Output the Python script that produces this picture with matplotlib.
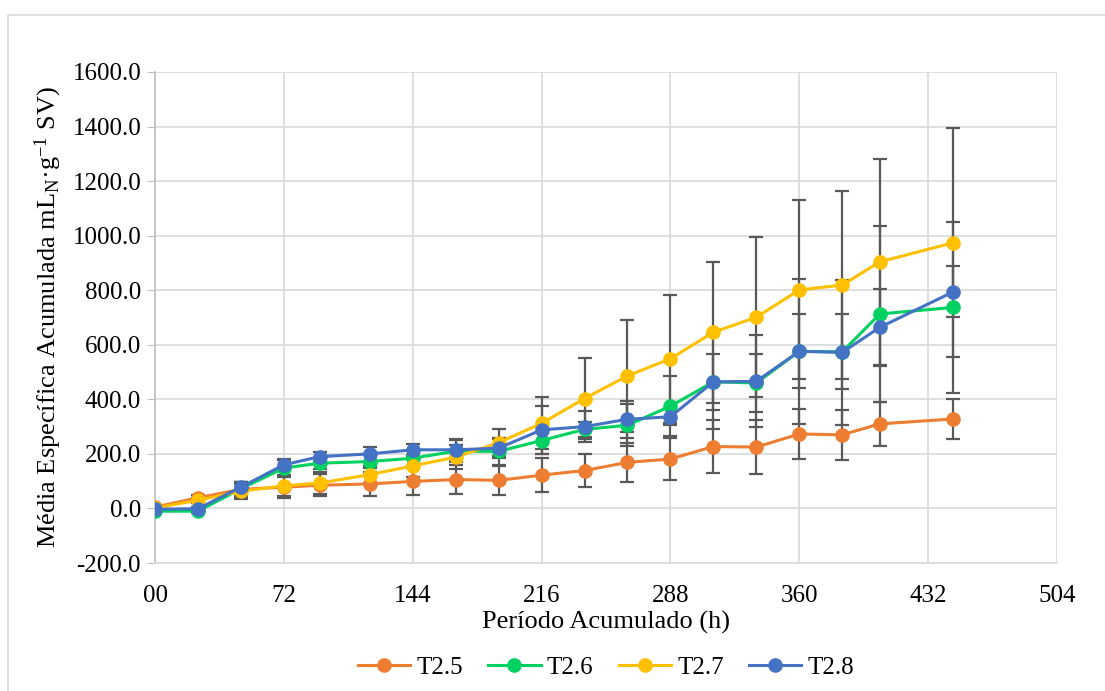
import matplotlib
matplotlib.use("Agg")
import matplotlib.pyplot as plt
from matplotlib.patches import Rectangle

plt.rcParams['font.family'] = ['Liberation Serif', 'DejaVu Serif']
plt.rcParams['mathtext.fontset'] = 'custom'
plt.rcParams['mathtext.rm'] = 'Liberation Serif'
plt.rcParams['mathtext.default'] = 'regular'

# Dados
horas = [0, 24, 48, 72, 92, 120, 144, 168, 192, 216, 240, 264, 288, 312, 336, 360, 384, 405, 446]

t25 = [5, 39, 70, 78, 85, 90, 99, 106, 103, 122, 139, 169, 181, 227, 225, 273, 270, 310, 328]
t25_err = [5, 10, 28, 38, 40, 43, 49, 53, 54, 63, 61, 72, 76, 97, 98, 90, 91, 81, 74]

t26 = [-10, -10, 72, 148, 166, 172, 184, 210, 209, 249, 290, 305, 375, 464, 460, 576, 574, 713, 737]
t26_err = [5, 8, 25, 30, 20, 25, 30, 40, 50, 50, 27, 77, 110, 103, 108, 136, 137, 322, 313]

t27 = [2, 30, 63, 83, 93, 124, 156, 188, 241, 312, 403, 486, 549, 646, 701, 801, 819, 904, 974]
t27_err = [5, 10, 28, 38, 40, 30, 40, 45, 49, 95, 148, 206, 234, 259, 294, 328, 346, 377, 419]

t28 = [-3, -1, 78, 160, 190, 200, 215, 215, 221, 288, 300, 327, 336, 464, 466, 576, 572, 664, 794]
t28_err = [5, 8, 20, 20, 16, 27, 22, 40, 35, 88, 56, 68, 30, 172, 169, 265, 265, 140, 93]

series = [
    ("T2.5", t25, t25_err, "#ED7D31"),
    ("T2.6", t26, t26_err, "#00D160"),
    ("T2.7", t27, t27_err, "#FFC000"),
    ("T2.8", t28, t28_err, "#4472C4"),
]

x_ticks = [0, 72, 144, 216, 288, 360, 432, 504]
x_labels = ["00", "72", "144", "216", "288", "360", "432", "504"]
y_ticks = [-200, 0, 200, 400, 600, 800, 1000, 1200, 1400, 1600]

fig = plt.figure(figsize=(11.05, 6.91), dpi=100)
ax = fig.add_axes([155 / 1105, 1 - 563 / 691, (1057 - 155) / 1105, (563 - 72) / 691])

# Moldura externa do gráfico
fig.patches.append(Rectangle((8 / 1105, -0.01), 1.0, 1 - 15 / 691 + 0.01,
                             transform=fig.transFigure, fill=False,
                             edgecolor="#D9D9D9", linewidth=1.2))

# Barras de erro primeiro (ficam atrás das linhas)
for nome, vals, err, cor in series:
    ax.errorbar(horas, vals, yerr=err, fmt="none", ecolor="#595959",
                elinewidth=1.6, capsize=5, capthick=1.6, zorder=2)

for nome, vals, err, cor in series:
    ax.plot(horas, vals, color=cor, linewidth=2.2, marker="o",
            markersize=9.5, label=nome, zorder=3)

ax.set_xlim(0, 504)
ax.set_ylim(-200, 1600)
ax.set_xticks(x_ticks)
ax.set_xticklabels(x_labels)
ax.set_yticks(y_ticks)
ax.set_yticklabels([f"{v:.1f}" for v in y_ticks])

ax.grid(True, color="#D9D9D9", linewidth=1.2)
ax.set_axisbelow(True)
for lado in ["top", "right"]:
    ax.spines[lado].set_visible(False)
ax.spines["left"].set_color("#BFBFBF")
ax.spines["bottom"].set_color("#D9D9D9")
ax.spines["left"].set_linewidth(1.2)
ax.spines["bottom"].set_linewidth(1.2)
ax.tick_params(axis="y", length=6, color="#BFBFBF", labelsize=18, pad=4)
ax.tick_params(axis="x", length=0, labelsize=18, pad=16)

ax.set_xlabel("Período Acumulado (h)", fontsize=19, labelpad=3)
ax.set_ylabel("Média Específica Acumulada mL$_{N}$·g$^{-1}$ SV)", fontsize=19, labelpad=6)

ax.legend(loc="upper center", bbox_to_anchor=(0.5, -0.145), ncol=4,
          frameon=False, fontsize=18, handlelength=2.1, columnspacing=1.0,
          handletextpad=0.25)

fig.savefig("out.png", dpi=100)
